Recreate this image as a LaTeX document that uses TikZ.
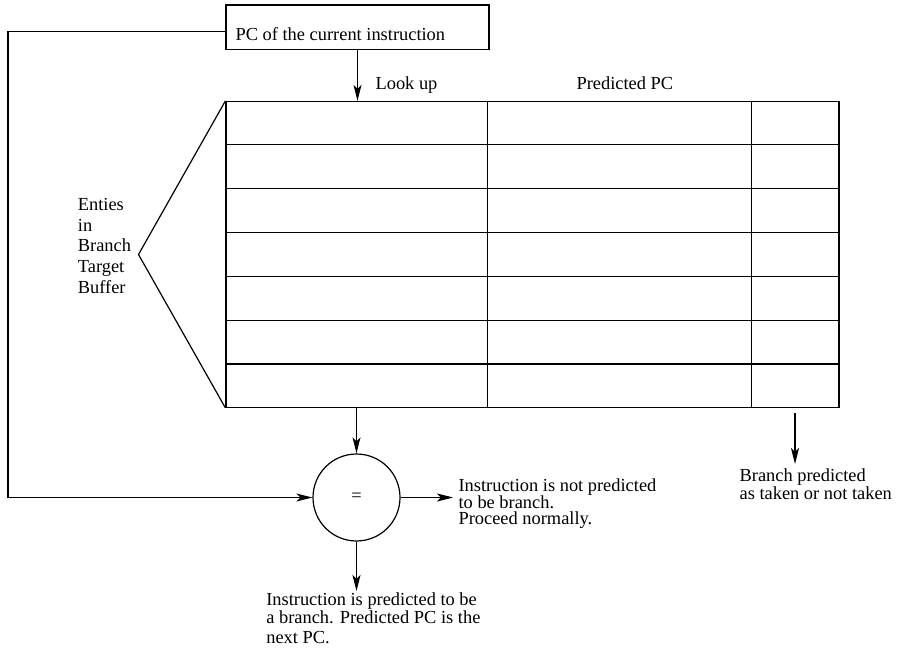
\documentclass[tikz,border=0pt]{standalone}
\usepackage{fontspec}
\setmainfont{Liberation Serif}
\usetikzlibrary{arrows.meta,calc}
\begin{document}
\begin{tikzpicture}[x=0.75pt,y=-0.75pt,
  line width=0.9pt,
  arr/.style={-{Stealth[length=12pt,width=6pt,inset=3pt]}},
  lbl/.style={anchor=base west,inner sep=0pt,font=\fontsize{13.8}{15}\selectfont},
  box/.style={draw,inner sep=0pt}]
\useasboundingbox (0,0) rectangle (897,649);

% current PC register
\node[box,minimum width=197.25pt,minimum height=33.2pt] (pcbox) at (357.5,27.2) {};
\node[lbl] (pctext) at (235,40.7) {PC of the current instruction};

% branch target buffer
\node[box,minimum width=459.75pt,minimum height=229.35pt] (btb) at (532.5,254.4) {};
\foreach \i in {1,...,6}
  \draw ($(btb.north west)!\i/7!(btb.south west)$) -- ($(btb.north east)!\i/7!(btb.south east)$);
\foreach \f in {0.4266,0.8564}
  \draw ($(btb.north west)!\f!(btb.north east)$) -- ($(btb.south west)!\f!(btb.south east)$);

\node[lbl] (lookup) at (375,90) {Look up};
\node[lbl] (predpc) at (576,90) {Predicted PC};

% bracket for the entries
\coordinate (apex) at (138.5,254.5);
\draw (btb.north west) -- (apex) -- (btb.south west);
\foreach \t [count=\k from 0] in {Enties,in,Branch,Target,Buffer}
  \node[lbl] (ent\k) at (77.3,210.7+20.6*\k) {\t};

% comparator
\node[draw,circle,minimum size=65.25pt,inner sep=0pt,font=\fontsize{13.8}{15}\selectfont] (cmp) at (356.5,497.5) {=};

\draw[arr] (pcbox.south) -- (pcbox.south |- btb.north);
\draw[arr] (cmp.north |- btb.south) -- (cmp.north);
\coordinate (loop) at (8,497.5);
\draw[arr] ([yshift=-3.4pt]pcbox.west) -| (loop) -- (cmp.west);

\coordinate (notend) at (453,497.5);
\draw[arr] (cmp.east) -- (notend);
\node[lbl] (np1) at (458,491.5) {Instruction is not predicted};
\node[lbl] (np2) at (458,508) {to be branch.};
\node[lbl] (np3) at (458,524.5) {Proceed normally.};

\coordinate (yesend) at (356.5,591);
\draw[arr] (cmp.south) -- (yesend);
\node[lbl] (yp1) at (265.7,605) {Instruction is predicted to be};
\node[lbl] (yp2) at (265.7,623.5) {a branch. Predicted PC is the};
\node[lbl] (yp3) at (265.7,643.5) {next PC.};

% taken / not taken output
\coordinate (tkstart) at (795,413);
\coordinate (tkend) at (795,464);
\draw[arr] (tkstart) -- (tkend);
\node[lbl] (tk1) at (739,481.7) {Branch predicted};
\node[lbl] (tk2) at (739,499.5) {as taken or not taken};
\end{tikzpicture}
\end{document}
